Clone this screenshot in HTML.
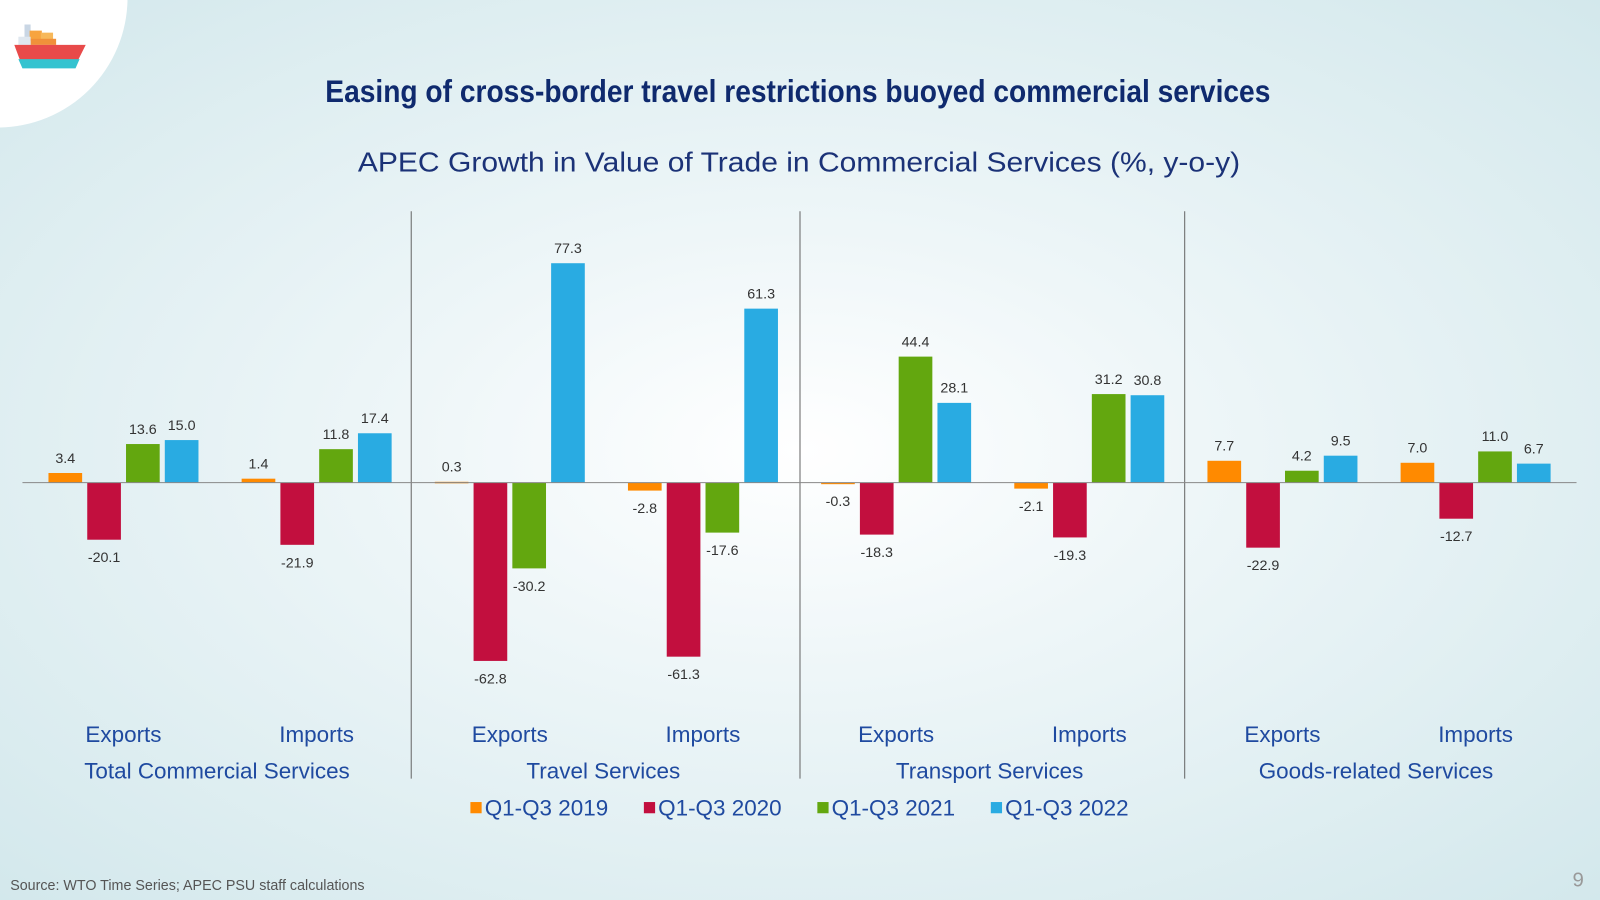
<!DOCTYPE html>
<html><head><meta charset="utf-8"><style>
html,body{margin:0;padding:0;width:1600px;height:900px;overflow:hidden;}
#wrap{width:1568px;height:882px;transform:scale(1.020408);transform-origin:0 0;position:relative;overflow:hidden;
background:radial-gradient(ellipse at 50% 50%,#ffffff 0%,#eef6f8 35%,#d3e8ec 100%);font-family:"Liberation Sans",sans-serif;}
#corner{position:absolute;left:-130px;top:-130px;width:255px;height:255px;border-radius:50%;background:#fff;}
#title{position:absolute;left:0;width:1564px;top:72px;text-align:center;font-weight:bold;font-size:31px;color:#0f2a6e;transform:scaleX(0.89);transform-origin:781px 0;white-space:nowrap;}
#sub{position:absolute;left:0;width:1566px;top:144px;text-align:center;font-size:27px;color:#1b3277;transform:scaleX(1.09);transform-origin:783px 0;white-space:nowrap;}
#src{position:absolute;left:10px;top:859px;font-size:14px;color:#555;}
#pg{position:absolute;left:1541px;top:852px;font-size:20px;color:#999;}
svg{position:absolute;left:0;top:0;}
</style></head><body>
<div id="wrap">
<div id="corner"></div>
<svg width="90" height="80">
<rect x="24" y="24" width="6" height="14" fill="#c9d6e4"/><rect x="29" y="30" width="12" height="10" fill="#f7a440"/><rect x="40" y="32" width="12" height="8" fill="#f7b85a"/><rect x="30" y="38" width="25" height="6" fill="#f0903a"/>
<rect x="18" y="36" width="12" height="8" fill="#dfe7ef"/>
<polygon points="14,44 84,44 76,60 20,60" fill="#e84a4a"/><polygon points="18,58 78,58 74,67 22,67" fill="#34c3d0"/></svg>
<div id="title">Easing of cross-border travel restrictions buoyed commercial services</div>
<div id="sub">APEC Growth in Value of Trade in Commercial Services (%, y-o-y)</div>
<svg id="chart" width="1568" height="882"></svg>
<div id="src">Source: WTO Time Series; APEC PSU staff calculations</div>
<div id="pg">9</div>
</div>
<script>
const categories=["Exports","Imports","Exports","Imports","Exports","Imports","Exports","Imports"];
const groups=["Total Commercial Services","Travel Services","Transport Services","Goods-related Services"];
const seriesNames=["Q1-Q3 2019","Q1-Q3 2020","Q1-Q3 2021","Q1-Q3 2022"];
const s2019=[3.4,1.4,0.3,-2.8,-0.3,-2.1,7.7,7.0];
const s2020=[-20.1,-21.9,-62.8,-61.3,-18.3,-19.3,-22.9,-12.7];
const s2021=[13.6,11.8,-30.2,-17.6,44.4,31.2,4.2,11.0];
const s2022=[15.0,17.4,77.3,61.3,28.1,30.8,9.5,6.7];
const series=[s2019,s2020,s2021,s2022];
const colors=["#ff8a00","#c20f3e","#63a70f","#29abe2"];
const NS="http://www.w3.org/2000/svg",svg=document.getElementById('chart');
const y0=473,ppu=2.782;
const y=v=>y0-v*ppu;
const catX=i=>121+i*189.3;
function mk(t,a){const e=document.createElementNS(NS,t);for(const k in a)e.setAttribute(k,a[k]);svg.appendChild(e);return e;}
[403,784,1161].forEach(x=>{const l=mk('line',{x1:x,x2:x,y1:207,y2:763,stroke:'#666','stroke-width':1});

});
series.forEach((s,si)=>{s.forEach((v,i)=>{
 const cx=catX(i)+(si-1.5)*38;
 const top=Math.min(y(v),y0),h=Math.abs(y(v)-y0);
 const r=mk('rect',{x:cx-16.5,y:top,width:33,height:Math.max(h,1.5),fill:colors[si]});
 
 
 const ty=v>=0?y(v)-10:y(v)+22;
 const t=mk('text',{x:cx,y:ty,'text-anchor':'middle','font-size':14,fill:'#333'});
 t.textContent=v.toFixed(1);
 
 
});});
const ax=mk('line',{x1:22,x2:1545,y1:y0,y2:y0,stroke:'#888','stroke-width':1});


categories.forEach((c,i)=>{const t=mk('text',{x:catX(i),y:727,'text-anchor':'middle','font-size':22,fill:'#1f4aa0'});t.textContent=c;

});
groups.forEach((g,i)=>{const t=mk('text',{x:(catX(2*i)+catX(2*i+1))/2-3,y:763,'text-anchor':'middle','font-size':22,fill:'#1f4aa0'});t.textContent=g;

});
const lx=[461,631,801,971];
seriesNames.forEach((n,i)=>{
 const r=mk('rect',{x:lx[i],y:786,width:11,height:11,fill:colors[i]});
 
 
 const t=mk('text',{x:lx[i]+14,y:799,'font-size':22,fill:'#1f4aa0'});t.textContent=n;
 
 
});
</script>
</body></html>
